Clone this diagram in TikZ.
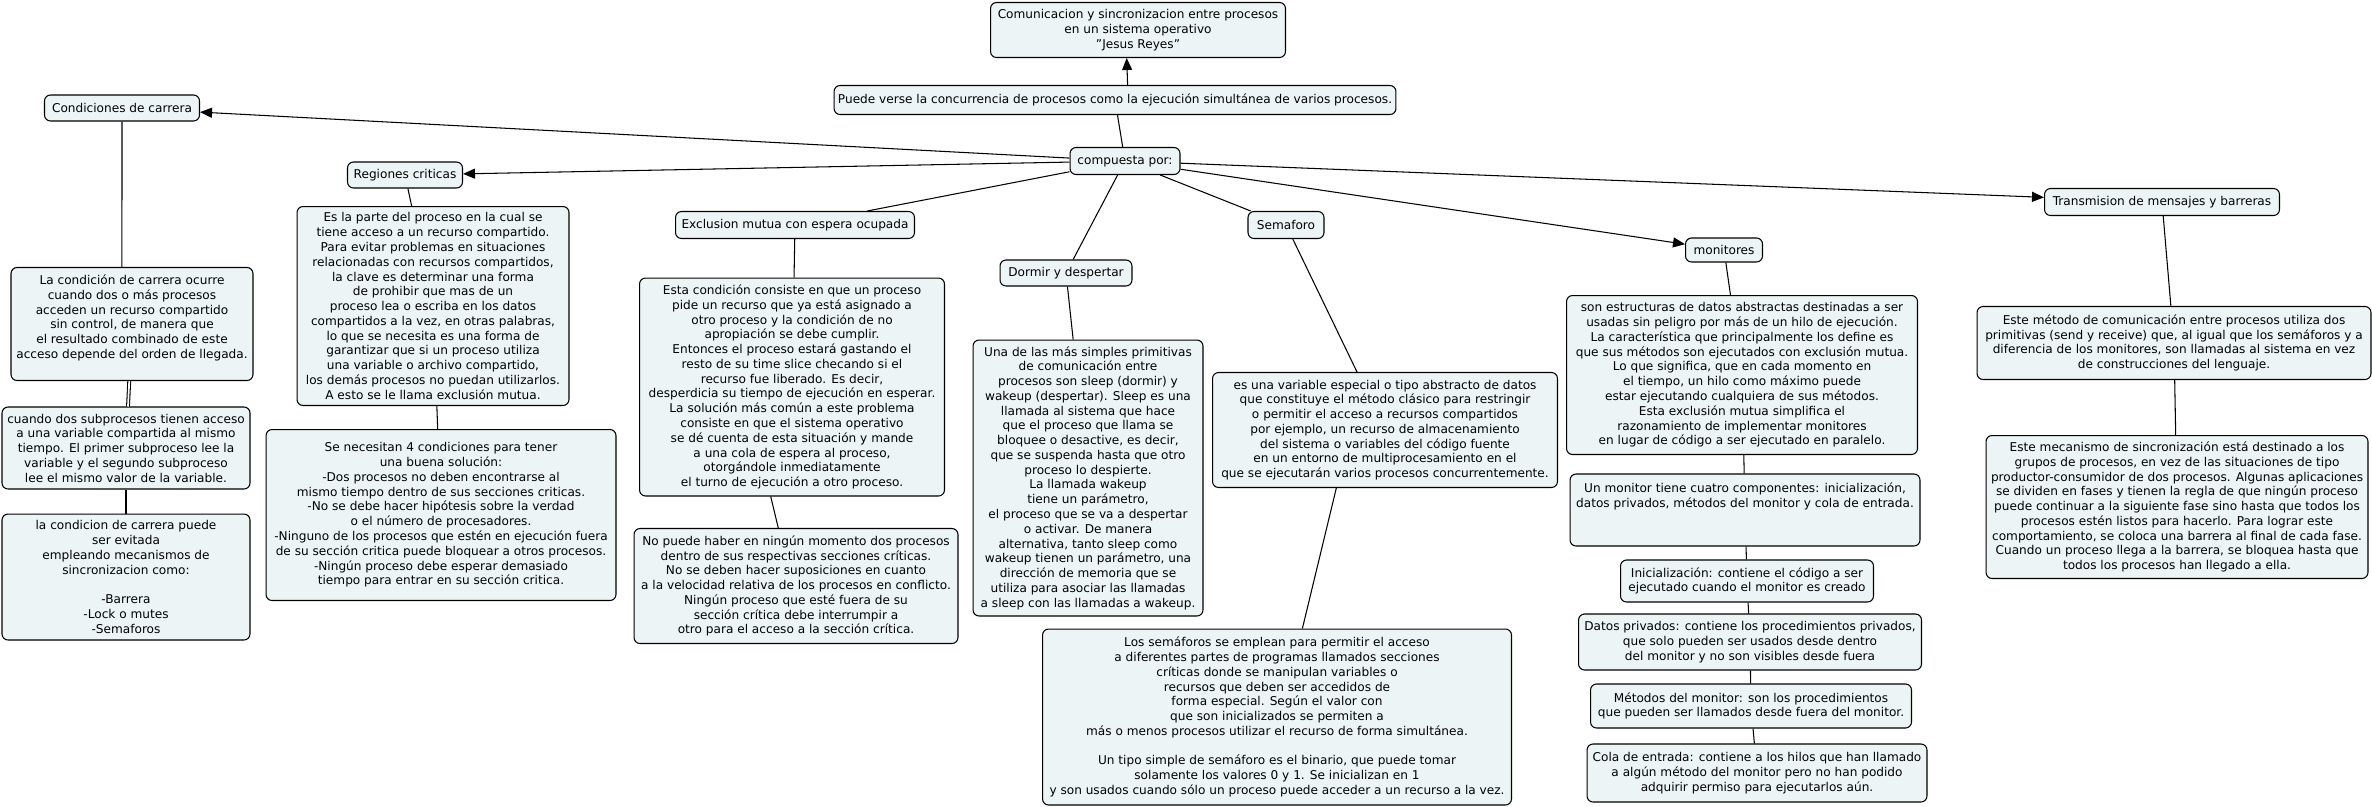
\documentclass[tikz,border=0pt]{standalone}
\usepackage{fontspec}
\setmainfont{DejaVu Sans}
\usetikzlibrary{arrows.meta}
\definecolor{boxfill}{RGB}{236,244,246}

\begin{document}
\begin{tikzpicture}[x=0.02cm,y=-0.02cm,
  every node/.style={font=\fontsize{6.9}{8.4}\selectfont},
  concept/.style={draw=black,fill=boxfill,rounded corners=1.2mm,align=center,inner sep=2pt,line width=0.6pt},
  ln/.style={line width=0.6pt},
  ar/.style={-{Triangle[length=2.4mm,width=2mm]},line width=0.6pt}]
\useasboundingbox (0,0) rectangle (2372,806);
\node[concept,minimum width=5.9cm,minimum height=1.1cm] (t) at (1138,30) {Comunicacion y sincronizacion entre procesos\\en un sistema operativo\\"Jesus Reyes"};
\node[concept,minimum width=11.24cm,minimum height=0.58cm] (p) at (1115,100) {Puede verse la concurrencia de procesos como la ejecución simultánea de varios procesos.};
\node[concept,minimum width=2.2cm,minimum height=0.54cm] (c) at (1125,161) {compuesta por:};
% condiciones de carrera
\node[concept,minimum width=3.1cm,minimum height=0.52cm] (cc) at (122,108) {Condiciones de carrera};
\node[concept,minimum width=4.84cm,minimum height=2.26cm] (lc) at (132,324) {La condición de carrera ocurre\\cuando dos o más procesos\\acceden un recurso compartido\\sin control, de manera que\\el resultado combinado de este\\acceso depende del orden de llegada.\\ \mbox{}};
\node[concept,minimum width=4.96cm,minimum height=1.64cm] (cu) at (126,448) {cuando dos subprocesos tienen acceso\\a una variable compartida al mismo\\tiempo. El primer subproceso lee la\\variable y el segundo subproceso\\lee el mismo valor de la variable.};
\node[concept,minimum width=4.96cm,minimum height=2.52cm] (ev) at (126,577) {la condicion de carrera puede\\ser evitada\\empleando mecanismos de\\sincronizacion como:\\ \mbox{}\\-Barrera\\-Lock o mutes\\-Semaforos};
% regiones criticas
\node[concept,minimum width=2.3cm,minimum height=0.52cm] (rc) at (405,175) {Regiones criticas};
\node[concept,minimum width=5.44cm,minimum height=3.98cm] (rd) at (433,306) {Es la parte del proceso en la cual se\\tiene acceso a un recurso compartido.\\Para evitar problemas en situaciones\\relacionadas con recursos compartidos,\\la clave es determinar una forma\\de prohibir que mas de un\\proceso lea o escriba en los datos\\compartidos a la vez, en otras palabras,\\lo que se necesita es una forma de\\garantizar que si un proceso utiliza\\una variable o archivo compartido,\\los demás procesos no puedan utilizarlos.\\A esto se le llama exclusión mutua.};
\node[concept,minimum width=7.0cm,minimum height=3.42cm] (rs) at (441,515) {Se necesitan 4 condiciones para tener\\una buena solución:\\-Dos procesos no deben encontrarse al\\mismo tiempo dentro de sus secciones criticas.\\-No se debe hacer hipótesis sobre la verdad\\o el número de procesadores.\\-Ninguno de los procesos que estén en ejecución fuera\\de su sección critica puede bloquear a otros procesos.\\-Ningún proceso debe esperar demasiado\\tiempo para entrar en su sección critica.};
% exclusion mutua
\node[concept,minimum width=4.78cm,minimum height=0.54cm] (em) at (795,225) {Exclusion mutua con espera ocupada};
\node[concept,minimum width=6.1cm,minimum height=4.36cm] (ed) at (792,387) {Esta condición consiste en que un proceso\\pide un recurso que ya está asignado a\\otro proceso y la condición de no\\apropiación se debe cumplir.\\Entonces el proceso estará gastando el\\resto de su time slice checando si el\\recurso fue liberado. Es decir,\\desperdicia su tiempo de ejecución en esperar.\\La solución más común a este problema\\consiste en que el sistema operativo\\se dé cuenta de esta situación y mande\\a una cola de espera al proceso,\\otorgándole inmediatamente\\el turno de ejecución a otro proceso.};
\node[concept,minimum width=6.48cm,minimum height=2.3cm] (es) at (796,586) {No puede haber en ningún momento dos procesos\\dentro de sus respectivas secciones críticas.\\No se deben hacer suposiciones en cuanto\\a la velocidad relativa de los procesos en conflicto.\\Ningún proceso que esté fuera de su\\sección crítica debe interrumpir a\\otro para el acceso a la sección crítica.};
% dormir y despertar
\node[concept,minimum width=2.64cm,minimum height=0.52cm] (dd) at (1066,273) {Dormir y despertar};
\node[concept,minimum width=4.6cm,minimum height=5.52cm] (dt) at (1088,478) {Una de las más simples primitivas\\de comunicación entre\\procesos son sleep (dormir) y\\wakeup (despertar). Sleep es una\\llamada al sistema que hace\\que el proceso que llama se\\bloquee o desactive, es decir,\\que se suspenda hasta que otro\\proceso lo despierte.\\La llamada wakeup\\tiene un parámetro,\\el proceso que se va a despertar\\o activar. De manera\\alternativa, tanto sleep como\\wakeup tienen un parámetro, una\\dirección de memoria que se\\utiliza para asociar las llamadas\\a sleep con las llamadas a wakeup.};
% semaforo
\node[concept,minimum width=1.52cm,minimum height=0.54cm] (sm) at (1286,225) {Semaforo};
\node[concept,minimum width=6.9cm,minimum height=2.3cm] (sd) at (1385,430) {es una variable especial o tipo abstracto de datos\\que constituye el método clásico para restringir\\o permitir el acceso a recursos compartidos\\por ejemplo, un recurso de almacenamiento\\del sistema o variables del código fuente\\en un entorno de multiprocesamiento en el\\que se ejecutarán varios procesos concurrentemente.};
\node[concept,minimum width=9.38cm,minimum height=3.52cm] (su) at (1277,717) {Los semáforos se emplean para permitir el acceso\\a diferentes partes de programas llamados secciones\\críticas donde se manipulan variables o\\recursos que deben ser accedidos de\\forma especial. Según el valor con\\que son inicializados se permiten a\\más o menos procesos utilizar el recurso de forma simultánea.\\ \mbox{}\\Un tipo simple de semáforo es el binario, que puede tomar\\solamente los valores 0 y 1. Se inicializan en 1\\y son usados cuando sólo un proceso puede acceder a un recurso a la vez.};
% monitores
\node[concept,minimum width=1.54cm,minimum height=0.48cm] (mo) at (1724,250) {monitores};
\node[concept,minimum width=7.02cm,minimum height=3.18cm] (md) at (1742,375) {son estructuras de datos abstractas destinadas a ser\\usadas sin peligro por más de un hilo de ejecución.\\La característica que principalmente los define es\\que sus métodos son ejecutados con exclusión mutua.\\Lo que significa, que en cada momento en\\el tiempo, un hilo como máximo puede\\estar ejecutando cualquiera de sus métodos.\\Esta exclusión mutua simplifica el\\razonamiento de implementar monitores\\en lugar de código a ser ejecutado en paralelo.};
\node[concept,minimum width=7.0cm,minimum height=1.44cm] (mc) at (1745,510) {Un monitor tiene cuatro componentes: inicialización,\\datos privados, métodos del monitor y cola de entrada.\\ \mbox{}\\ \mbox{}};
\node[concept,minimum width=5.06cm,minimum height=0.84cm] (mi) at (1747,581) {Inicialización: contiene el código a ser\\ejecutado cuando el monitor es creado};
\node[concept,minimum width=6.86cm,minimum height=1.12cm] (mp) at (1750,642) {Datos privados: contiene los procedimientos privados,\\que solo pueden ser usados desde dentro\\del monitor y no son visibles desde fuera};
\node[concept,minimum width=6.42cm,minimum height=0.88cm] (mm) at (1751,706) {Métodos del monitor: son los procedimientos\\que pueden ser llamados desde fuera del monitor.};
\node[concept,minimum width=6.8cm,minimum height=1.16cm] (mq) at (1757,773) {Cola de entrada: contiene a los hilos que han llamado\\a algún método del monitor pero no han podido\\adquirir permiso para ejecutarlos aún.};
% transmision de mensajes
\node[concept,minimum width=4.7cm,minimum height=0.54cm] (tm) at (2162,202) {Transmision de mensajes y barreras};
\node[concept,minimum width=7.88cm,minimum height=1.46cm] (tr) at (2174,343) {Este método de comunicación entre procesos utiliza dos\\primitivas (send y receive) que, al igual que los semáforos y a\\diferencia de los monitores, son llamadas al sistema en vez\\de construcciones del lenguaje.};
\node[concept,minimum width=7.64cm,minimum height=2.86cm] (tb) at (2177,507) {Este mecanismo de sincronización está destinado a los\\grupos de procesos, en vez de las situaciones de tipo\\productor-consumidor de dos procesos. Algunas aplicaciones\\se dividen en fases y tienen la regla de que ningún proceso\\puede continuar a la siguiente fase sino hasta que todos los\\procesos estén listos para hacerlo. Para lograr este\\comportamiento, se coloca una barrera al final de cada fase.\\Cuando un proceso llega a la barrera, se bloquea hasta que\\todos los procesos han llegado a ella.};
% links
\draw[ar] (p.50) -- (t.248);
\draw[ln] (p) -- (c);
\draw[ar] (c) -- (cc); \draw[ar] (c) -- (rc);
\draw[ln] (c) -- (em); \draw[ln] (c) -- (dd); \draw[ln] (c) -- (sm);
\draw[ar] (c) -- (mo); \draw[ar] (c) -- (tm);
\draw[ln] (cc.south) -- (lc.100);
\draw[ln,double,double distance=1pt] (lc) -- (cu);
\draw[ln] (cu) -- (ev);
\draw[ln] (rc) -- (rd); \draw[ln] (rd) -- (rs);
\draw[ln] (em) -- (ed); \draw[ln] (ed.259) -- (es.107);
\draw[ln] (dd) -- (dt);
\draw[ln] (sm) -- (sd); \draw[ln] (sd.230) -- (su.74);
\draw[ln] (mo) -- (md); \draw[ln] (md) -- (mc); \draw[ln] (mc) -- (mi);
\draw[ln] (mi) -- (mp); \draw[ln] (mp) -- (mm); \draw[ln] (mm) -- (mq);
\draw[ln] (tm) -- (tr); \draw[ln] (tr) -- (tb);
\end{tikzpicture}
\end{document}
